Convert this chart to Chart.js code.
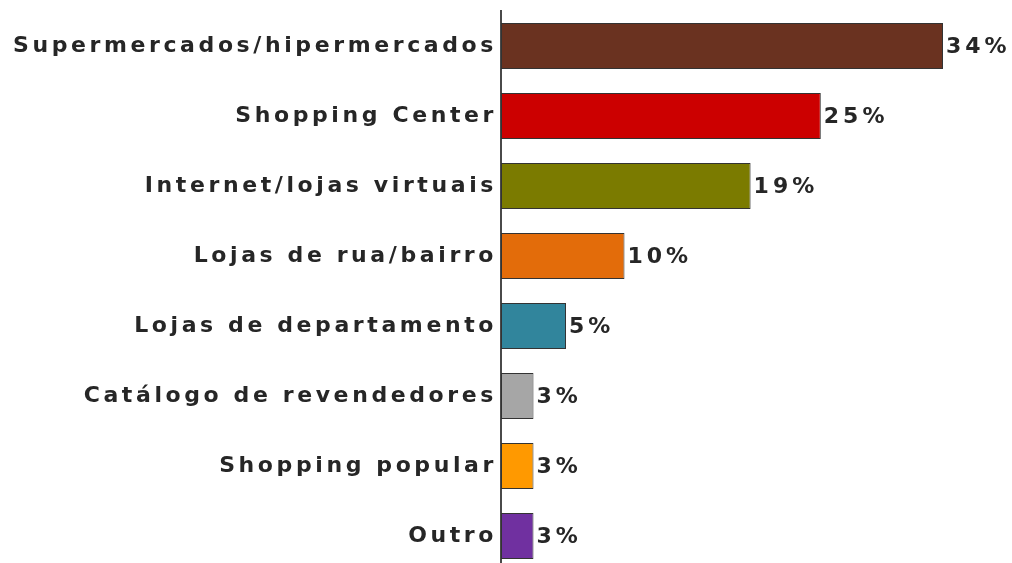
<!DOCTYPE html>
<html>
<head>
<meta charset="utf-8">
<script src="https://cdn.jsdelivr.net/npm/chart.js@4.4.1/dist/chart.umd.min.js"></script>
<style>
    html, body { margin: 0; padding: 0; background: #fff; overflow: hidden; }
    #wrap { position: relative; width: 1012px; height: 582px; }
</style>
</head>
<body>
<div id="wrap"><canvas id="chart"></canvas></div>
<script>
    'use strict';

    var categories = [
        'Supermercados/hipermercados',
        'Shopping Center',
        'Internet/lojas virtuais',
        'Lojas de rua/bairro',
        'Lojas de departamento',
        'Catálogo de revendedores',
        'Shopping popular',
        'Outro'
    ];
    // bar lengths
    var values = [34, 24.6, 19.2, 9.5, 5, 2.5, 2.5, 2.5];
    // printed value labels
    var valueLabels = ['34%', '25%', '19%', '10%', '5%', '3%', '3%', '3%'];
    var barColors = ['#6a3220', '#cc0000', '#7b7b00', '#e36c0a', '#31859c', '#a6a6a6', '#ff9900', '#7030a0'];

    var FONT = "'DejaVu Sans', Verdana, sans-serif";

    // letter spacing: the context is reset on resize, so set it before every draw
    var spacingPlugin = {
        id: 'spacing',
        beforeDraw: function (chart) {
            chart.ctx.letterSpacing = '3.6px';
        }
    };

    var valueLabelPlugin = {
        id: 'valueLabels',
        afterDatasetsDraw: function (chart) {
            var ctx = chart.ctx;
            var meta = chart.getDatasetMeta(0);
            ctx.save();
            ctx.letterSpacing = '4px';
            ctx.font = 'bold 22px ' + FONT;
            ctx.fillStyle = '#262626';
            ctx.textAlign = 'left';
            ctx.textBaseline = 'middle';
            meta.data.forEach(function (bar, i) {
                ctx.fillText(valueLabels[i], bar.x + 3, bar.y + 1);
            });
            ctx.restore();
        }
    };

    var chartObject = new Chart(document.getElementById('chart').getContext('2d'), {
        type: 'bar',
        data: {
            labels: categories,
            datasets: [{
                data: values,
                backgroundColor: barColors,
                borderColor: '#333333',
                borderWidth: 1,
                borderSkipped: false,
                categoryPercentage: 1,
                barPercentage: 0.66
            }]
        },
        options: {
            indexAxis: 'y',
            responsive: true,
            maintainAspectRatio: false,
            animation: false,
            layout: { padding: { top: 11, right: 4, bottom: 11, left: 0 } },
            plugins: {
                legend: { display: false },
                tooltip: { enabled: false }
            },
            scales: {
                x: {
                    display: false,
                    min: 0,
                    max: 39
                },
                y: {
                    grid: { display: false, drawTicks: false },
                    border: { display: true, color: '#4a4a4a', width: 2 },
                    ticks: {
                        color: '#262626',
                        padding: 4,
                        font: { family: FONT, size: 22, weight: 'bold', lineHeight: 0.6 }
                    },
                    afterFit: function (scale) {
                        scale.width = 501;
                    }
                }
            }
        },
        plugins: [spacingPlugin, valueLabelPlugin]
    });
</script>
</body>
</html>
